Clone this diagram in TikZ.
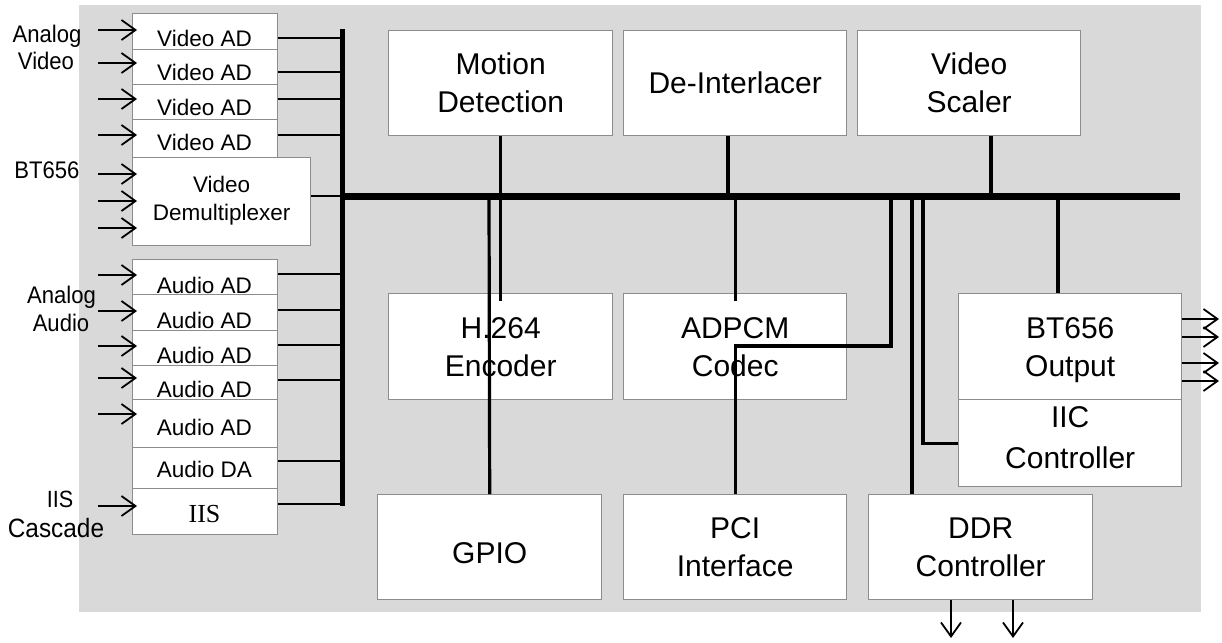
\documentclass[tikz,border=0pt]{standalone}
\usepackage{fontspec}
\setmainfont{Liberation Sans}
\newfontfamily\iisfont{Liberation Serif}
\newfontfamily\narrowsans[FakeStretch=0.92]{Liberation Sans}
\usetikzlibrary{arrows.meta}
\definecolor{bggray}{HTML}{D9D9D9}
\definecolor{boxgray}{HTML}{8C8C8C}
\begin{document}
\begin{tikzpicture}[x=1pt,y=-1pt,
  box/.style={draw=boxgray, line width=1.4pt, fill=white, inner sep=0pt, anchor=north west},
  big/.style={font=\fontsize{30}{38}\selectfont, align=center},
  lbl/.style={font=\fontsize{22.5}{28}\selectfont, align=center},
  olbl/.style={font=\narrowsans\fontsize{24}{28}\selectfont, inner sep=0pt, anchor=base},
  conn/.style={line width=2pt},
  drop/.style={line width=3.2pt},
  lbus/.style={line width=5pt},
  mbus/.style={line width=7pt},
  arr/.style={line width=1.8pt, -{Straight Barb[length=14pt,width=20pt]}}
]
\useasboundingbox (0,0) rectangle (1222,642);
\fill[bggray] (79,5) rectangle (1201,612);

% ---- left column: video
\node[box, minimum width=145pt, minimum height=36pt] (vad1) at (132,13) {};
\node[box, minimum width=145pt, minimum height=35pt] (vad2) at (132,49) {};
\node[box, minimum width=145pt, minimum height=35pt] (vad3) at (132,84) {};
\node[box, minimum width=145pt, minimum height=38pt] (vad4) at (132,119) {};
\node[box, minimum width=178pt, minimum height=88pt, lbl] (demux) at (132,157) {Video\\Demultiplexer\rule[-6pt]{0pt}{0pt}};
\node[lbl, anchor=base] (tvad1) at (204.5,46) {Video AD};
\node[lbl, anchor=base] (tvad2) at (204.5,81) {Video AD};
\node[lbl, anchor=base] (tvad3) at (204.5,115) {Video AD};
\node[lbl, anchor=base] (tvad4) at (204.5,150) {Video AD};

% ---- left column: audio
\node[box, minimum width=145pt, minimum height=35pt] (aad1) at (132,259) {};
\node[box, minimum width=145pt, minimum height=36pt] (aad2) at (132,294) {};
\node[box, minimum width=145pt, minimum height=35pt] (aad3) at (132,330) {};
\node[box, minimum width=145pt, minimum height=34pt] (aad4) at (132,365) {};
\node[box, minimum width=145pt, minimum height=48pt] (aad5) at (132,399) {};
\node[box, minimum width=145pt, minimum height=41pt] (ada) at (132,447) {};
\node[box, minimum width=145pt, minimum height=46pt] (iis) at (132,488) {};
\node[lbl, anchor=base] (taad1) at (204.5,293) {Audio AD};
\node[lbl, anchor=base] (taad2) at (204.5,328) {Audio AD};
\node[lbl, anchor=base] (taad3) at (204.5,363) {Audio AD};
\node[lbl, anchor=base] (taad4) at (204.5,397) {Audio AD};
\node[lbl, anchor=base] (taad5) at (204.5,435) {Audio AD};
\node[lbl, anchor=base] (tada) at (204.5,477) {Audio DA};
\node[lbl, anchor=base, font=\iisfont\fontsize{26}{30}\selectfont] (tiis) at (204.5,522) {IIS};

% ---- outside labels
\node[olbl] (lan1) at (47,42) {Analog};
\node[olbl] (lvid) at (46,70) {Video};
\node[olbl] (lbt) at (47,178) {BT656};
\node[olbl] (lan2) at (61.5,303) {Analog};
\node[olbl] (laud) at (61,331) {Audio};
\node[olbl, font=\narrowsans\fontsize{23.5}{28}\selectfont] (liis) at (60,507) {IIS};
\node[olbl, font=\narrowsans\fontsize{26.5}{30}\selectfont] (lcas) at (56,537) {Cascade};

% ---- input arrows
\foreach \y in {30,63,99,135,174,201,228,275,311,346,378,414,506}
  \draw[arr] (98,\y) -- (137,\y);

% ---- left bus
\coordinate (lbusT) at (342,29);
\coordinate (lbusB) at (342,506);
\draw[lbus] (lbusT) -- (lbusB);
\draw[conn] (vad1.east |- 0,38) -- (lbusT |- 0,38);
\draw[conn] (vad2.east |- 0,72) -- (lbusT |- 0,72);
\draw[conn] (vad3.east |- 0,99) -- (lbusT |- 0,99);
\draw[conn] (vad4.east |- 0,135) -- (lbusT |- 0,135);
\draw[conn] (demux.east |- 0,196) -- (lbusT |- 0,196);
\draw[conn] (aad1.east |- 0,274) -- (lbusT |- 0,274);
\draw[conn] (aad2.east |- 0,310) -- (lbusT |- 0,310);
\draw[conn] (aad3.east |- 0,345) -- (lbusT |- 0,345);
\draw[conn] (aad4.east |- 0,380) -- (lbusT |- 0,380);
\draw[conn] (ada.east |- 0,461) -- (lbusT |- 0,461);
\draw[conn] (iis.east |- 0,504) -- (lbusT |- 0,504);

% ---- main bus
\coordinate (mbL) at (342,196);
\coordinate (mbR) at (1180,196);
\draw[mbus] (mbL) -- (mbR);

% ---- blocks
\node[box, big, minimum width=224pt, minimum height=105pt] (md) at (388,30) {Motion\\Detection};
\node[box, big, minimum width=223pt, minimum height=105pt] (di) at (623,30) {De-Interlacer};
\node[box, big, minimum width=223pt, minimum height=105pt] (vs) at (857,30) {Video\\Scaler};
\node[box, big, minimum width=224pt, minimum height=106pt] (h264) at (388,293) {H.264\\Encoder};
\node[box, big, minimum width=223pt, minimum height=106pt] (adpcm) at (623,293) {ADPCM\\Codec};
\node[box, big, minimum width=223pt, minimum height=106pt] (bt) at (958,293) {BT656\\\smash{Output}};
\node[box, big, minimum width=223pt, minimum height=87pt, font=\fontsize{30}{41}\selectfont] (iic) at (958,399) {IIC\\Controller\rule[-11.5pt]{0pt}{0pt}};
\node[box, big, minimum width=224pt, minimum height=105pt, text height=32.5pt, text depth=0pt] (gpio) at (377,494) {GPIO};
\node[box, big, minimum width=223pt, minimum height=105pt] (pci) at (623,494) {PCI\\Interface};
\node[box, big, minimum width=224pt, minimum height=105pt] (ddr) at (868,494) {DDR\\Controller};

% ---- bus taps
\coordinate (tdi) at (728,196);
\coordinate (tvs) at (991,196);
\coordinate (tgp) at (489,196);
\coordinate (tpci) at (891,196);
\coordinate (pcibend) at (891,346);
\coordinate (tddr) at (912,196);
\coordinate (tiic) at (923,196);
\coordinate (tbt) at (1058,196);

\draw[drop] (md.south) -- (md.south |- mbL);
\draw[drop] (tdi |- di.south) -- (tdi);
\draw[drop] (tvs |- vs.south) -- (tvs);
\draw[drop] (tgp) -- (gpio.north);
\draw[drop] (h264.north |- mbL) -- ([yshift=-8pt]h264.north);
\draw[drop] (adpcm.north |- mbL) -- ([yshift=-8pt]adpcm.north);
\draw[drop] (tpci) -- (pcibend) -| (pci.north);
\draw[drop] (tddr) -- (tddr |- ddr.north);
\draw[drop] (tiic) |- (iic.west);
\draw[drop] (tbt) -- (tbt |- bt.north);

% ---- outputs
\foreach \y in {319,337,363,381}
  \draw[arr] (bt.east |- 0,\y) -- (1219,\y);
\foreach \x in {951,1013}
  \draw[arr] (ddr.south -| \x,0) -- (\x,638);
\end{tikzpicture}
\end{document}
